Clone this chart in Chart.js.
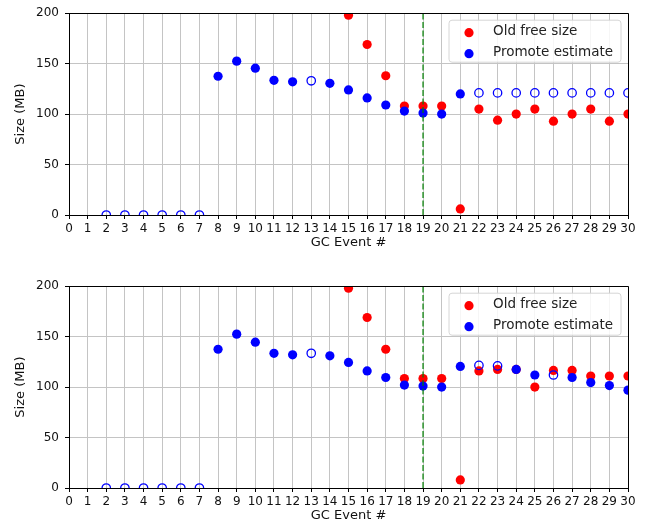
<!DOCTYPE html>
<html>
<head>
<meta charset="utf-8">
<script src="https://cdn.jsdelivr.net/npm/chart.js@4.4.1/dist/chart.umd.min.js"></script>
<style>
  html, body { margin: 0; padding: 0; background: #ffffff; }
  #wrap { position: relative; width: 646px; height: 531px; overflow: hidden; }
  .panel { position: absolute; left: 0; width: 646px; height: 258px; }
  #p1 { top: 0; }
  #p2 { top: 273px; }
</style>
</head>
<body>
<div id="wrap">
  <div class="panel" id="p1"><canvas id="c1" width="646" height="258"></canvas></div>
  <div class="panel" id="p2"><canvas id="c2" width="646" height="258"></canvas></div>
</div>
<script>
// ---- Data ----
const events = [0,1,2,3,4,5,6,7,8,9,10,11,12,13,14,15,16,17,18,19,20,21,22,23,24,25,26,27,28,29,30];
const seriesLabels = ["Old free size", "Promote estimate"];
const yTicks = [0, 50, 100, 150, 200];
const xTitle = "GC Event #";
const yTitle = "Size (MB)";
const markerEvent = 19;

// Top panel
const topOldFree = [null,null,null,null,null,null,null,null,null,null,null,null,null,null,null,
  198,169,138,108,108,108,6,105,94,100,105,93,100,105,93,100];
const topPromote = [null,null,null,null,null,null,null,null,137.5,152.5,145.5,133.5,132,null,130.5,
  124,116,109,103,101,100,120,null,null,null,null,null,null,null,null,null];
const topPromoteOpen = [null,null,0,0,0,0,0,0,null,null,null,null,null,133,null,
  null,null,null,null,null,null,null,121,121,121,121,121,121,121,121,121];

// Bottom panel
const botOldFree = [null,null,null,null,null,null,null,null,null,null,null,null,null,null,null,
  198,169,137.5,108.5,108.5,108.5,8,116,117.5,117.5,100,116.5,116.5,111,111,111];
const botPromote = [null,null,null,null,null,null,null,null,137.5,152.5,144.5,133.5,132,null,131,
  124.5,116,109.5,102,101,100,120.5,null,null,117.5,112,null,109.5,104.5,101.5,97];
const botPromoteOpen = [null,null,0,0,0,0,0,0,null,null,null,null,null,133.5,null,
  null,null,null,null,null,null,null,121.5,121,null,null,112,null,null,null,null];

// ---- Helpers ----
function toPoints(vals) {
  const pts = [];
  vals.forEach((v, i) => { if (v !== null) pts.push({ x: events[i], y: v }); });
  return pts;
}

const RED = "#ff0000";
const BLUE = "#0000ff";
const GREEN = "#008000";
const FONT = "'DejaVu Sans', 'Liberation Sans', sans-serif";

const framePlugin = {
  id: "frameAndLegend",
  beforeDatasetsDraw(chart) {
    const { ctx, chartArea: a } = chart;
    ctx.save();
    ctx.beginPath();
    ctx.rect(a.left, a.top, a.right - a.left, a.bottom - a.top);
    ctx.clip();
  },
  afterDatasetsDraw(chart) {
    const { ctx, chartArea: a } = chart;
    ctx.restore();
    ctx.save();
    ctx.strokeStyle = "#000";
    ctx.lineWidth = 1;
    ctx.beginPath();
    const t = Math.round(a.top) + 0.5, r = Math.round(a.right) + 0.5;
    const l = Math.round(a.left) + 0.5, b = Math.round(a.bottom) + 0.5;
    ctx.moveTo(l, b); ctx.lineTo(l, t); ctx.lineTo(r, t); ctx.lineTo(r, b); ctx.lineTo(l, b);
    ctx.stroke();
    ctx.restore();
  },
  afterDraw(chart) {
    const { ctx, chartArea: a } = chart;
    const items = seriesLabels.map(lbl => chart.data.datasets.find(d => d.label === lbl && d.showInLegend));
    const bx = a.right - 179, by = a.top + 7, bw = 172, bh = 42, rad = 3;
    ctx.save();
    ctx.beginPath();
    ctx.moveTo(bx + rad, by);
    ctx.lineTo(bx + bw - rad, by);
    ctx.arcTo(bx + bw, by, bx + bw, by + rad, rad);
    ctx.lineTo(bx + bw, by + bh - rad);
    ctx.arcTo(bx + bw, by + bh, bx + bw - rad, by + bh, rad);
    ctx.lineTo(bx + rad, by + bh);
    ctx.arcTo(bx, by + bh, bx, by + bh - rad, rad);
    ctx.lineTo(bx, by + rad);
    ctx.arcTo(bx, by, bx + rad, by, rad);
    ctx.closePath();
    ctx.fillStyle = "rgba(255,255,255,0.85)";
    ctx.fill();
    ctx.strokeStyle = "#d6d6d6";
    ctx.lineWidth = 1;
    ctx.stroke();
    items.forEach((d, i) => {
      if (!d) return;
      const cy = by + 12.5 + i * 21;
      ctx.beginPath();
      ctx.arc(bx + 20, cy, 4.6, 0, Math.PI * 2);
      ctx.fillStyle = d.backgroundColor;
      ctx.fill();
      ctx.fillStyle = "#222";
      ctx.font = "13.5px " + FONT;
      ctx.textBaseline = "middle";
      ctx.textAlign = "left";
      ctx.fillText(d.label, bx + 44, cy - 1.5);
    });
    ctx.restore();
  }
};

function makeChart(id, oldFree, promote, promoteOpen) {
  const ctx = document.getElementById(id).getContext("2d");
  return new Chart(ctx, {
    type: "scatter",
    data: {
      datasets: [
        {
          label: "marker",
          type: "line",
          data: [{ x: markerEvent, y: yTicks[0] }, { x: markerEvent, y: yTicks[yTicks.length - 1] }],
          borderColor: GREEN,
          borderWidth: 1.2,
          borderDash: [6, 2.5],
          pointRadius: 0,
          fill: false,
          order: 0
        },
        {
          label: seriesLabels[1] + " (open)",
          data: toPoints(promoteOpen),
          pointRadius: 4.2,
          pointHoverRadius: 4.2,
          pointBorderWidth: 1.3,
          borderColor: BLUE,
          backgroundColor: "rgba(0,0,0,0)",
          pointBackgroundColor: "rgba(0,0,0,0)",
          order: 1
        },
        {
          label: seriesLabels[1],
          showInLegend: true,
          data: toPoints(promote),
          pointRadius: 4.6,
          pointHoverRadius: 4.6,
          borderWidth: 0,
          borderColor: BLUE,
          backgroundColor: BLUE,
          order: 2
        },
        {
          label: seriesLabels[0],
          showInLegend: true,
          data: toPoints(oldFree),
          pointRadius: 4.6,
          pointHoverRadius: 4.6,
          borderWidth: 0,
          borderColor: RED,
          backgroundColor: RED,
          order: 3
        }
      ]
    },
    options: {
      responsive: false,
      animation: false,
      devicePixelRatio: 1,
      layout: { padding: { top: 11, right: 18, bottom: 0, left: 0 } },
      plugins: { legend: { display: false }, tooltip: { enabled: false } },
      scales: {
        x: {
          type: "linear",
          min: events[0],
          max: events[events.length - 1],
          afterFit: s => { s.height = 43; },
          afterBuildTicks: s => { s.ticks = events.map(v => ({ value: v })); },
          ticks: {
            stepSize: 1, autoSkip: false, maxRotation: 0, minRotation: 0,
            padding: 3, color: "#111", font: { family: FONT, size: 12 }
          },
          grid: { color: "#c4c4c4", lineWidth: 1, tickColor: "#000", tickLength: 4, drawTicks: true },
          border: { color: "#000", width: 1 },
          title: { display: true, text: xTitle, color: "#111", font: { family: FONT, size: 13 }, padding: { top: 0, bottom: 8 } }
        },
        y: {
          type: "linear",
          min: yTicks[0],
          max: yTicks[yTicks.length - 1],
          afterFit: s => { s.width = 69; },
          afterBuildTicks: s => { s.ticks = yTicks.map(v => ({ value: v })); },
          ticks: { stepSize: 50, padding: 6, color: "#111", font: { family: FONT, size: 12 } },
          grid: { color: "#c4c4c4", lineWidth: 1, tickColor: "#000", tickLength: 4, drawTicks: true },
          border: { color: "#000", width: 1 },
          title: { display: true, text: yTitle, color: "#111", font: { family: FONT, size: 13 }, padding: { top: 13, bottom: 0 } }
        }
      }
    },
    plugins: [framePlugin]
  });
}

makeChart("c1", topOldFree, topPromote, topPromoteOpen);
makeChart("c2", botOldFree, botPromote, botPromoteOpen);
</script>
</body>
</html>
